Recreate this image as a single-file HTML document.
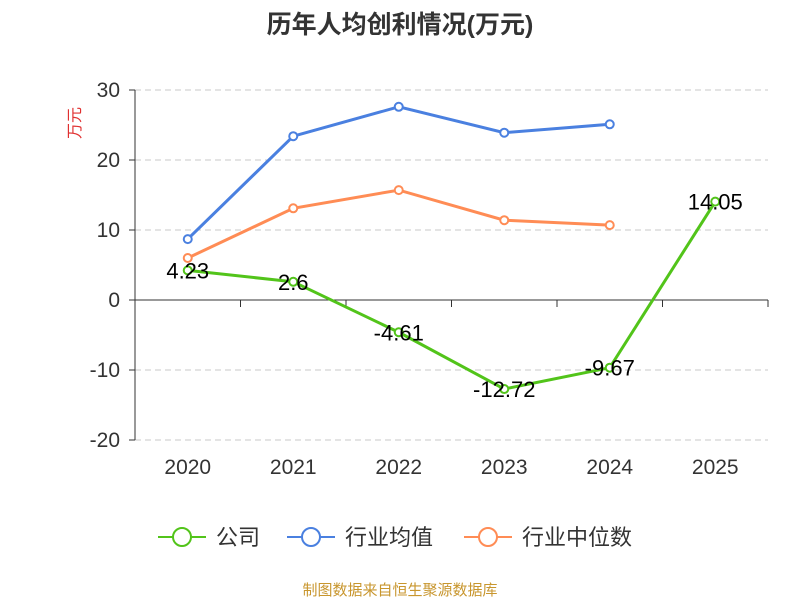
<!DOCTYPE html>
<html><head><meta charset="utf-8"><style>
body{margin:0;background:#fff;}
svg text{font-family:"Liberation Sans","Noto Sans CJK SC",sans-serif;}
</style></head><body>
<svg id="chart" width="800" height="600" xmlns="http://www.w3.org/2000/svg">
<text x="400" y="33" text-anchor="middle" font-size="25" font-weight="bold" fill="#333">历年人均创利情况(万元)</text>
<text x="80" y="123" font-size="16" fill="#e03030" transform="rotate(-90 80 123)" text-anchor="middle">万元</text>
<g id="grid"></g><g id="axes"></g><g id="series"></g>
<g>
<g><line x1="158" y1="537" x2="206" y2="537" stroke="#52c41a" stroke-width="2"/><circle cx="182" cy="537" r="9" fill="#fff" stroke="#52c41a" stroke-width="2"/><text x="216" y="545" font-size="22" fill="#333">公司</text></g>
<g><line x1="287" y1="537" x2="335" y2="537" stroke="#4a80e0" stroke-width="2"/><circle cx="311" cy="537" r="9" fill="#fff" stroke="#4a80e0" stroke-width="2"/><text x="345" y="545" font-size="22" fill="#333">行业均值</text></g>
<g><line x1="464" y1="537" x2="512" y2="537" stroke="#ff8c55" stroke-width="2"/><circle cx="488" cy="537" r="9" fill="#fff" stroke="#ff8c55" stroke-width="2"/><text x="522" y="545" font-size="22" fill="#333">行业中位数</text></g>
</g>
<text x="400" y="595" text-anchor="middle" font-size="15" fill="#c8962e">制图数据来自恒生聚源数据库</text>
</svg>
<script>
const categories=["2020","2021","2022","2023","2024","2025"];
const companyValues=[4.23,2.6,-4.61,-12.72,-9.67,14.05];
const averageValues=[8.7,23.4,27.6,23.9,25.1];
const medianValues=[6.0,13.1,15.7,11.4,10.7];
const yTicks=[30,20,10,0,-10,-20];
const NS="http://www.w3.org/2000/svg";
const L=135,R=768,step=(R-L)/categories.length;
const x=i=>L+step*(i+0.5);
const y=v=>300-v*7;
function mk(tag,attrs,parent,text){const e=document.createElementNS(NS,tag);for(const k in attrs)e.setAttribute(k,attrs[k]);if(text!==undefined)e.textContent=text;document.getElementById(parent).appendChild(e);return e;}
yTicks.forEach(t=>{
 if(t!==0){const g=mk("line",{x1:L,x2:R,y1:y(t),y2:y(t),stroke:"#c8c8c8","stroke-dasharray":"6,4"},"grid");
 
 }
 const lb=mk("text",{x:L-15,y:y(t)+7,"text-anchor":"end","font-size":21,fill:"#333"},"axes",String(t));
 
 
 const tk=mk("line",{x1:L-6,x2:L,y1:y(t),y2:y(t),stroke:"#333"},"axes");
 
 
});
const ya=mk("line",{x1:L,x2:L,y1:y(30),y2:y(-20),stroke:"#333"},"axes");


const xa=mk("line",{x1:L,x2:R,y1:y(0),y2:y(0),stroke:"#333"},"axes");


for(let i=0;i<=categories.length;i++){const tk=mk("line",{x1:L+step*i,x2:L+step*i,y1:y(0),y2:y(0)+7,stroke:"#333"},"axes");
 
 }
categories.forEach((c,i)=>{const t=mk("text",{x:x(i),y:474,"text-anchor":"middle","font-size":21,fill:"#333"},"axes",c);
 
 });
function series(vals,color,name,labels){
 const p=mk("polyline",{points:vals.map((v,i)=>x(i)+","+y(v)).join(" "),fill:"none",stroke:color,"stroke-width":3},"series");
 
 
 vals.forEach((v,i)=>{const c=mk("circle",{cx:x(i),cy:y(v),r:4,fill:"#fff",stroke:color,"stroke-width":2},"series");
  
  
  if(labels){const t=mk("text",{x:x(i),y:y(v)+8,"text-anchor":"middle","font-size":22,fill:"#000"},"series",String(v));
  
  }
 });
}
series(averageValues,"#4a80e0","industry-average",false);
series(medianValues,"#ff8c55","industry-median",false);
series(companyValues,"#52c41a","company",true);
</script>
</body></html>
